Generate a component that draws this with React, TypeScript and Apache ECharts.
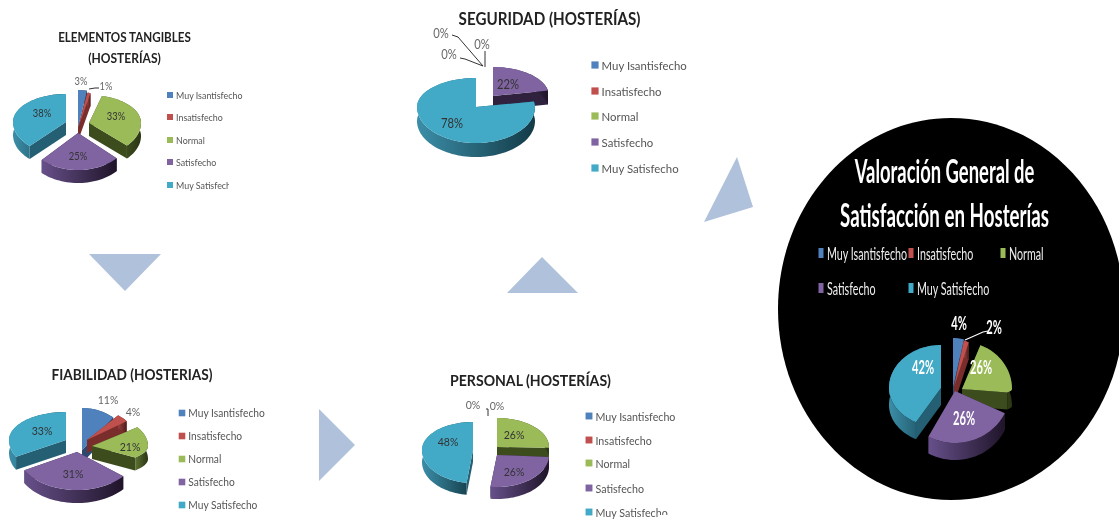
import React, { useEffect, useRef } from "react";
import * as echarts from "echarts";

const categories = ["Muy Isantisfecho", "Insatisfecho", "Normal", "Satisfecho", "Muy Satisfecho"];
const tangibles = [3, 1, 33, 25, 38];
const seguridad = [0, 0, 0, 22, 78];
const fiabilidad = [11, 4, 21, 31, 33];
const personal = [0, 0, 26, 26, 48];
const general = [4, 2, 26, 26, 42];

const tops = ["#4F81BD", "#C0504D", "#9BBB59", "#8064A2", "#42A9C6"];
const cuts = ["#2c4a70", "#7a2e2c", "#3d4c1d", "#30213f", "#245f74"];
const wallL = ["#3d6797", "#98403d", "#5d7334", "#67508a", "#3b8ea8"];
const wallR = ["#1c3049", "#4f1d1c", "#2a3513", "#1f1429", "#133a47"];

const SMALL = "Lato, sans-serif";

type Slice = { a: number[]; rx: number; far: number; near: number };
type Pie = {
  values: number[];
  depth: number;
  slices: Slice[];
  labels: number[][];
  labelColors: string[];
  font: string;
  labelScale: number;
};

const s = (a: number[], rx: number, far: number, near: number): Slice => ({ a, rx, far, near });
const DARK = "#333333";
const GRAY = "#666666";

const pies: Pie[] = [
  {
    values: tangibles,
    depth: 13,
    slices: [s([78, 128], 48, 38, 37), s([78, 128], 50, 36, 37), s([89, 123], 52, 28, 33), s([78, 133], 53, 28, 37), s([66, 122], 53, 28, 33)],
    labels: [[81, 81], [106, 86], [116, 116], [78, 156], [42, 113]],
    labelColors: [GRAY, GRAY, DARK, DARK, DARK],
    font: `11px ${SMALL}`,
    labelScale: 0.85,
  },
  {
    values: seguridad,
    depth: 14,
    slices: [s([485, 100], 50, 28, 30), s([485, 100], 50, 28, 30), s([485, 100], 50, 28, 30), s([493, 96], 56, 29, 30), s([476, 107], 59, 29, 36)],
    labels: [[441, 33], [449, 54], [482, 44], [508, 84], [452, 123]],
    labelColors: [GRAY, GRAY, GRAY, DARK, DARK],
    font: `12.5px ${SMALL}`,
    labelScale: 0.9,
  },
  {
    values: fiabilidad,
    depth: 13,
    slices: [s([82, 450], 49, 42, 37), s([87, 440], 49, 32, 37), s([92, 446], 56, 32, 18), s([77, 452], 60, 28, 38), s([66, 440], 57, 28, 35)],
    labels: [[108, 399], [133, 411], [130, 446], [73, 473], [42, 430]],
    labelColors: [GRAY, GRAY, DARK, DARK, DARK],
    font: `12px ${SMALL}`,
    labelScale: 0.88,
  },
  {
    values: personal,
    depth: 12,
    slices: [s([490, 440], 50, 28, 30), s([490, 440], 50, 28, 30), s([497, 447], 52, 29, 10), s([497, 455], 52, 29, 32), s([473, 450], 51, 28, 33)],
    labels: [[473, 404], [497, 405], [514, 434], [514, 471], [448, 441]],
    labelColors: [GRAY, GRAY, DARK, DARK, DARK],
    font: `12px ${SMALL}`,
    labelScale: 0.88,
  },
  {
    values: general,
    depth: 17,
    slices: [s([953, 388], 44, 50, 40), s([954, 387], 40, 48, 40), s([962, 389], 50, 47, 8), s([955, 391], 55, 45, 52), s([941, 388], 52, 43, 39)],
    labels: [[959, 323], [994, 327], [981, 367], [964, 418], [923, 367]],
    labelColors: ["#fff", "#fff", "#fff", "#fff", "#fff"],
    font: `bold 18px ${SMALL}`,
    labelScale: 0.62,
  },
];

const leaders: number[][][] = [
  [[89, 89], [95, 88], [99, 88]],
  [[452, 35], [458, 37], [483, 66]],
  [[460, 58], [465, 59], [483, 66]],
  [[485, 51], [485, 67]],
  [[486, 409], [488, 409], [488, 416]],
];
const leadersWhite: number[][][] = [[[965, 340], [983, 332], [988, 331]]];

const arrows: number[][][] = [
  [[89, 254], [161, 254], [125, 291]],
  [[319, 409], [319, 481], [355, 445]],
  [[507, 293], [578, 293], [542, 257]],
  [[737, 157], [753, 207], [704, 222]],
];

const titles: [string, number, number, number, number][] = [
  ["ELEMENTOS TANGIBLES", 124.5, 37, 14, 0.83],
  ["(HOSTERÍAS)", 124.5, 58, 14, 0.86],
  ["SEGURIDAD (HOSTERÍAS)", 549.5, 18, 16.5, 0.92],
  ["FIABILIDAD (HOSTERIAS)", 132, 374, 15, 0.91],
  ["PERSONAL (HOSTERÍAS)", 530.5, 380, 15, 0.94],
];

const legends: { xs: number[]; ys: number[]; font: number; sx: number }[] = [
  { xs: [170], ys: [95, 117, 140, 162, 185], font: 10, sx: 0.89 },
  { xs: [595], ys: [65, 91, 116, 142, 168], font: 12, sx: 0.95 },
  { xs: [182], ys: [413, 436, 459, 482, 505], font: 11, sx: 0.93 },
  { xs: [589], ys: [416, 440, 463, 488, 512], font: 11.5, sx: 0.93 },
];
const generalLegend = [[821, 253], [911, 253], [1003, 253], [821, 288], [911, 288]];

const masks = [
  [229, 178, 30, 14],
  [672, 160, 24, 5],
  [660, 515, 30, 4],
];

function renderPie(pie: Pie) {
  const total = pie.values.reduce((p, c) => p + c, 0);
  return (params: any, api: any) => {
    const i = params.dataIndex;
    const value = api.value(0);
    let before = 0;
    for (let k = 0; k < i; k++) before += pie.values[k];
    const sl = pie.slices[i];
    const a0 = (before / total) * Math.PI * 2;
    const a1 = ((before + value) / total) * Math.PI * 2;
    const at = (t: number, dy = 0) => {
      const c = Math.cos(t);
      return [sl.a[0] + Math.sin(t) * sl.rx, sl.a[1] - c * (c > 0 ? sl.far : sl.near) + dy];
    };
    const children: any[] = [];
    if (value > 0) {
      const n = Math.max(2, Math.ceil((a1 - a0) / 0.05));
      const arc: number[][] = [];
      const low: number[][] = [];
      for (let k = 0; k <= n; k++) {
        const t = a0 + ((a1 - a0) * k) / n;
        arc.push(at(t));
        low.push(at(t, pie.depth));
      }
      const apex = sl.a;
      const apexLow = [apex[0], apex[1] + pie.depth];
      const cutFace = (p: number[], q: number[]) => ({
        type: "polygon",
        shape: { points: [apex, p, q, apexLow] },
        style: { fill: cuts[i] },
      });
      children.push(cutFace(arc[0], low[0]));
      children.push(cutFace(arc[n], low[n]));
      children.push({
        type: "polygon",
        shape: { points: arc.concat(low.slice().reverse()) },
        style: {
          fill: {
            type: "linear", x: 0, y: 0, x2: 1, y2: 0,
            colorStops: [{ offset: 0, color: wallL[i] }, { offset: 1, color: wallR[i] }],
          },
        },
      });
      children.push({
        type: "polygon",
        shape: { points: [apex].concat(arc) },
        style: { fill: tops[i] },
      });
    }
    children.push({
      type: "text",
      z2: 50,
      x: pie.labels[i][0],
      y: pie.labels[i][1],
      scaleX: pie.labelScale,
      style: {
        x: 0,
        y: 0,
        text: `${value}%`,
        fill: pie.labelColors[i],
        font: pie.font,
        align: "center",
        verticalAlign: "middle",
        textAlign: "center",
        textVerticalAlign: "middle",
      },
    });
    return { type: "group", children };
  };
}

function txt(text: string, x: number, y: number, font: string, fill: string, center: boolean, sx = 1) {
  return {
    type: "text",
    z: 5,
    x,
    y,
    scaleX: sx,
    style: {
      x: 0, y: 0, text, font, fill,
      align: center ? "center" : "left",
      verticalAlign: "middle",
      textAlign: center ? "center" : "left",
      textVerticalAlign: "middle",
    },
  };
}

export default function App() {
  const ref = useRef<HTMLDivElement>(null);
  useEffect(() => {
    const chart = echarts.init(ref.current!, undefined, { renderer: "svg" });
    const graphic: any[] = [];
    graphic.push({ type: "ellipse", z: 0, shape: { cx: 951, cy: 309, rx: 173, ry: 191 }, style: { fill: "#000" } });
    arrows.forEach((points) =>
      graphic.push({ type: "polygon", z: 1, shape: { points }, style: { fill: "#B0C1DC" } })
    );
    titles.forEach(([t, x, y, size, sx]) =>
      graphic.push(txt(t, x, y, `bold ${size}px ${SMALL}`, "#222", true, sx))
    );
    graphic.push(txt("Valoración General de", 944.5, 171, `bold 32px ${SMALL}`, "#fff", true, 0.575));
    graphic.push(txt("Satisfacción en Hosterías", 944.5, 215, `bold 32px ${SMALL}`, "#fff", true, 0.585));
    legends.forEach((lg) => {
      lg.ys.forEach((y, i) => {
        const size = lg.font * 0.6;
        graphic.push({
          type: "rect", z: 5,
          shape: { x: lg.xs[0] - size / 2, y: y - size / 2, width: size, height: size },
          style: { fill: tops[i] },
        });
        graphic.push(txt(categories[i], lg.xs[0] + size / 2 + 3, y, `${lg.font}px ${SMALL}`, "#555", false, lg.sx));
      });
    });
    generalLegend.forEach(([x, y], i) => {
      graphic.push({
        type: "rect", z: 5,
        shape: { x: x - 2.5, y: y - 5, width: 5, height: 10 },
        style: { fill: tops[i] },
      });
      graphic.push(txt(categories[i], x + 6, y, `17px ${SMALL}`, "#eee", false, 0.63));
    });
    masks.forEach(([x, y, width, height]) =>
      graphic.push({ type: "rect", z: 8, shape: { x, y, width, height }, style: { fill: "#fff" } })
    );
    leaders.forEach((points) =>
      graphic.push({ type: "polyline", z: 5, shape: { points }, style: { stroke: "#333", lineWidth: 1, fill: "none" } })
    );
    leadersWhite.forEach((points) =>
      graphic.push({ type: "polyline", z: 5, shape: { points }, style: { stroke: "#fff", lineWidth: 1.2, fill: "none" } })
    );
    chart.setOption({
      animation: false,
      backgroundColor: "#fff",
      graphic,
      series: pies.map((pie) => ({
        type: "custom",
        coordinateSystem: "none",
        silent: true,
        clip: false,
        renderItem: renderPie(pie),
        data: pie.values.map((v, i) => ({ name: categories[i], value: [v] })),
      })),
    });
    return () => chart.dispose();
  }, []);
  return <div ref={ref} style={{ position: "absolute", left: 0, top: 0, width: 1119, height: 519, filter: "blur(0.6px)" }} />;
}
